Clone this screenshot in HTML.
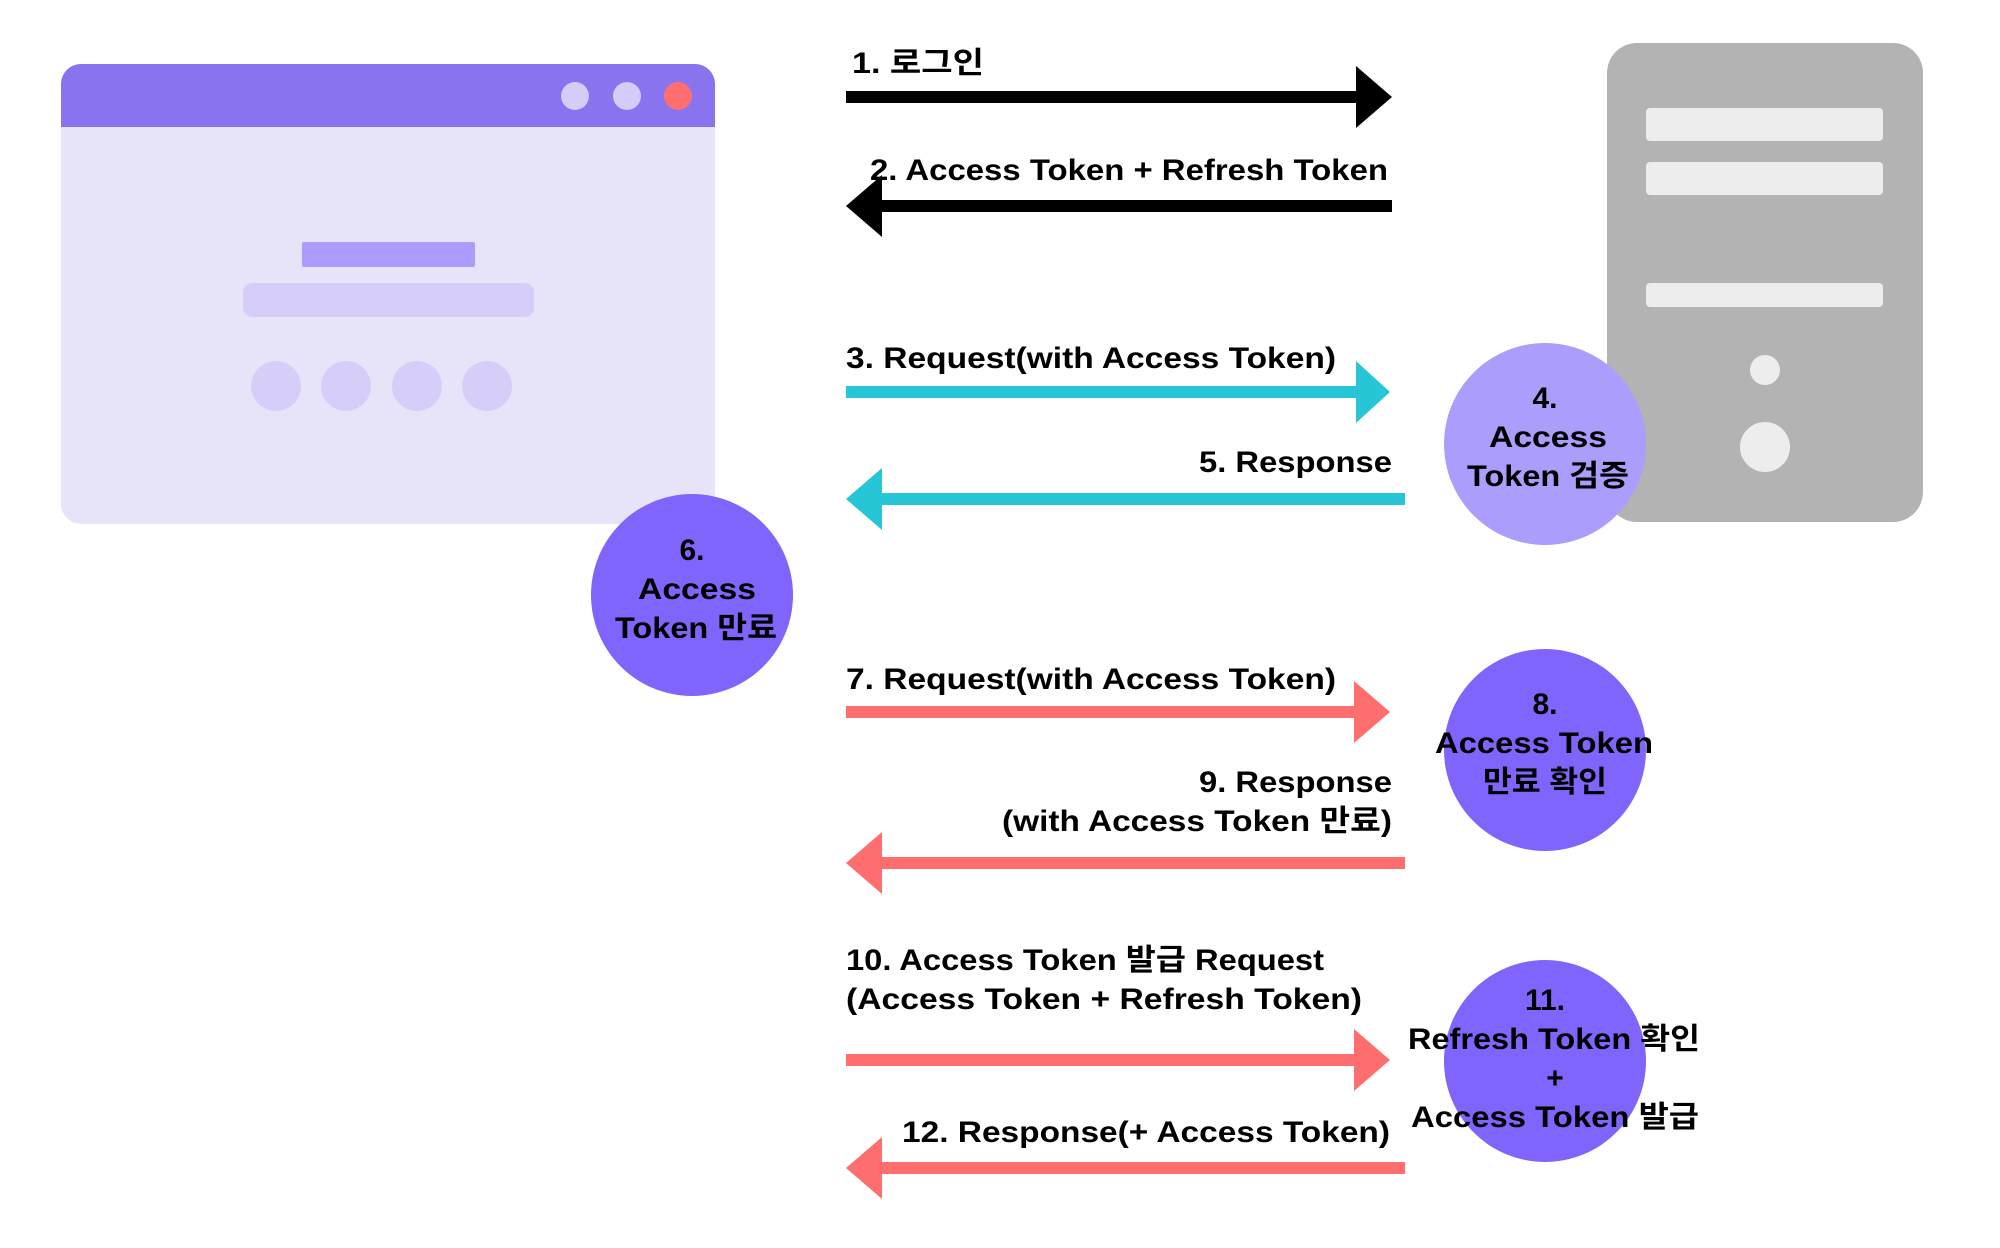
<!DOCTYPE html>
<html><head><meta charset="utf-8"><style>
html,body{margin:0;padding:0;background:#fff;}
svg{display:block;}
text{font-family:"Liberation Sans","Noto Sans CJK KR",sans-serif;font-weight:bold;font-size:30px;fill:#000;}
</style></head><body>
<svg width="2000" height="1248" viewBox="0 0 2000 1248" xmlns="http://www.w3.org/2000/svg">
<!-- browser -->
<rect x="61" y="64" width="654" height="460" rx="20" fill="#E7E4F9"/>
<path d="M61 127 V84 a20 20 0 0 1 20 -20 H695 a20 20 0 0 1 20 20 V127 Z" fill="#8973EF"/>
<circle cx="575" cy="96" r="14" fill="#D5CCF7"/>
<circle cx="627" cy="96" r="14" fill="#D5CCF7"/>
<circle cx="678" cy="96" r="14" fill="#FF6F6F"/>
<rect x="302" y="242" width="173" height="25" rx="2" fill="#AD9CFD"/>
<rect x="243" y="283" width="291" height="34" rx="9" fill="#D6CEF8"/>
<circle cx="276" cy="386" r="25" fill="#D6CEF8"/>
<circle cx="346" cy="386" r="25" fill="#D6CEF8"/>
<circle cx="417" cy="386" r="25" fill="#D6CEF8"/>
<circle cx="487" cy="386" r="25" fill="#D6CEF8"/>
<!-- server -->
<rect x="1607" y="43" width="316" height="479" rx="30" fill="#B3B3B3"/>
<rect x="1646" y="108" width="237" height="33" rx="4" fill="#EDEDED"/>
<rect x="1646" y="162" width="237" height="33" rx="4" fill="#EDEDED"/>
<rect x="1646" y="283" width="237" height="24" rx="4" fill="#EDEDED"/>
<circle cx="1765" cy="370" r="15" fill="#EDEDED"/>
<circle cx="1765" cy="447" r="25" fill="#EDEDED"/>
<!-- arrows -->
<rect x="846" y="91" width="520" height="12" fill="#000"/>
<polygon points="1356,66 1392,97 1356,128" fill="#000"/>
<rect x="874" y="200" width="518" height="12" fill="#000"/>
<polygon points="882,175 846,206 882,237" fill="#000"/>
<rect x="846" y="386" width="518" height="12" fill="#26C6D6"/>
<polygon points="1356,361 1390,392 1356,423" fill="#26C6D6"/>
<rect x="875" y="493" width="530" height="12" fill="#26C6D6"/>
<polygon points="882,468 846,499 882,530" fill="#26C6D6"/>
<rect x="846" y="706" width="520" height="12" fill="#FF6E6E"/>
<polygon points="1354,681 1390,712 1354,743" fill="#FF6E6E"/>
<rect x="878" y="857" width="527" height="12" fill="#FF6E6E"/>
<polygon points="882,832 846,863 882,894" fill="#FF6E6E"/>
<rect x="846" y="1054" width="520" height="12" fill="#FF6E6E"/>
<polygon points="1354,1029 1390,1060 1354,1091" fill="#FF6E6E"/>
<rect x="878" y="1162" width="527" height="12" fill="#FF6E6E"/>
<polygon points="882,1137 846,1168 882,1199" fill="#FF6E6E"/>
<!-- labels -->
<text x="852" y="73" textLength="132" lengthAdjust="spacingAndGlyphs">1. 로그인</text>
<text x="1388" y="180" text-anchor="end" textLength="518" lengthAdjust="spacingAndGlyphs">2. Access Token + Refresh Token</text>
<text x="846" y="368" textLength="490" lengthAdjust="spacingAndGlyphs">3. Request(with Access Token)</text>
<text x="1392" y="472" text-anchor="end" textLength="193" lengthAdjust="spacingAndGlyphs">5. Response</text>
<text x="846" y="689" textLength="490" lengthAdjust="spacingAndGlyphs">7. Request(with Access Token)</text>
<text x="1392" y="792" text-anchor="end" textLength="193" lengthAdjust="spacingAndGlyphs">9. Response</text>
<text x="1392" y="831" text-anchor="end" textLength="390" lengthAdjust="spacingAndGlyphs">(with Access Token 만료)</text>
<text x="846" y="970" textLength="478" lengthAdjust="spacingAndGlyphs">10. Access Token 발급 Request</text>
<text x="846" y="1009" textLength="516" lengthAdjust="spacingAndGlyphs">(Access Token  + Refresh Token)</text>
<text x="1390" y="1142" text-anchor="end" textLength="488" lengthAdjust="spacingAndGlyphs">12. Response(+ Access Token)</text>
<!-- circles -->
<circle cx="1545" cy="444" r="101" fill="#AB9DFC"/>
<g text-anchor="middle">
<text x="1545" y="408">4.</text>
<text x="1548" y="447" textLength="118" lengthAdjust="spacingAndGlyphs">Access</text>
<text x="1548" y="486" textLength="162" lengthAdjust="spacingAndGlyphs">Token 검증</text>
</g>
<circle cx="692" cy="595" r="101" fill="#8064FB"/>
<g text-anchor="middle">
<text x="692" y="560">6.</text>
<text x="697" y="599" textLength="118" lengthAdjust="spacingAndGlyphs">Access</text>
<text x="696" y="638" textLength="162" lengthAdjust="spacingAndGlyphs">Token 만료</text>
</g>
<circle cx="1545" cy="750" r="101" fill="#8064FB"/>
<g text-anchor="middle">
<text x="1545" y="714">8.</text>
<text x="1544" y="753" textLength="218" lengthAdjust="spacingAndGlyphs">Access Token</text>
<text x="1545" y="792" textLength="124" lengthAdjust="spacingAndGlyphs">만료 확인</text>
</g>
<circle cx="1545" cy="1061" r="101" fill="#8064FB"/>
<g text-anchor="middle">
<text x="1545" y="1010">11.</text>
<text x="1554" y="1049" textLength="292" lengthAdjust="spacingAndGlyphs">Refresh Token 확인</text>
<text x="1555" y="1088">+</text>
<text x="1555" y="1127" textLength="288" lengthAdjust="spacingAndGlyphs">Access Token 발급</text>
</g>
</svg>
</body></html>
